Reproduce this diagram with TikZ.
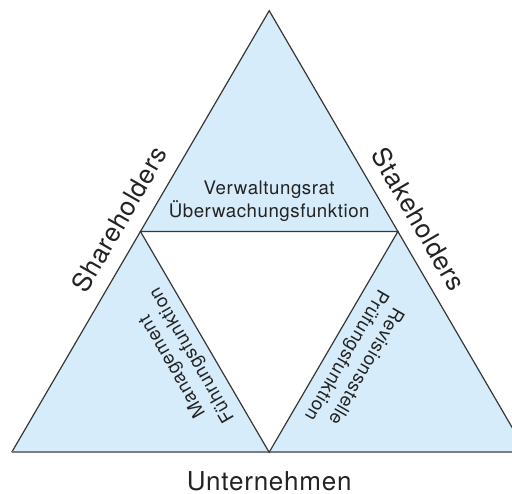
\documentclass[tikz,border=0pt]{standalone}
\usepackage{fontspec}
\setmainfont{TeX Gyre Heros}[LetterSpace=3]
\usetikzlibrary{calc}
\definecolor{paleblue}{RGB}{214,236,250}
\definecolor{edgegray}{RGB}{55,55,55}
\definecolor{basegray}{RGB}{125,125,125}
\definecolor{textgray}{RGB}{35,35,35}

\begin{document}
\begin{tikzpicture}[x=0.75pt,y=0.75pt,
	edge/.style={edgegray, line width=0.9pt},
	bigtext/.style={text=textgray, inner sep=0pt, font=\fontsize{19.5}{23}\selectfont},
	midtext/.style={text=textgray, inner sep=0pt, align=center, font=\fontsize{14}{17}\selectfont}]
	
	% the frame, the big triangle runs out on the right
	\useasboundingbox (0,0) rectangle (512,494);
	\clip (0,0) rectangle (512,494);
	
	% corners of the big triangle
	\coordinate (top) at (269.2,483.3);
	\coordinate (bl) at (11.7,41.7);
	\coordinate (br) at (526.6,41.7);
	% midpoints of its sides
	\coordinate (ml) at ($(top)!0.5!(bl)$);
	\coordinate (mr) at ($(top)!0.5!(br)$);
	\coordinate (mb) at ($(bl)!0.5!(br)$);
	
	% the big triangle
	\fill[paleblue] (top) -- (bl) -- (br) -- cycle;
	\draw[edge] (bl) -- (top) -- (br);
	\draw[basegray, line width=1.5pt] (bl) -- (br);
	
	% the inner triangle
	\draw[edge, fill=white] (ml) -- (mr) -- (mb) -- cycle;
	
	% the sides
	\node[bigtext, rotate=60, anchor=base] (share) at ([shift={(150:15)}]ml) {Shareholders};
	\node[bigtext, rotate=-60, anchor=base] (stake) at ([shift={(30:15)}]mr) {Stakeholders};
	\node[bigtext, anchor=base] (firm) at (269.2,3) {Unternehmen};
	
	% the three corners
	\node[midtext] (board) at (269.2,292.5) {Verwaltungsrat\\Überwachungsfunktion};
	\node[midtext, rotate=120] (mgmt) at (182.7,133.5) {Management\\Führungsfunktion};
	\node[midtext, rotate=-120] (audit) at (355.6,133.5) {Revisionsstelle\\Prüfungsfunktion};
\end{tikzpicture}
\end{document}
